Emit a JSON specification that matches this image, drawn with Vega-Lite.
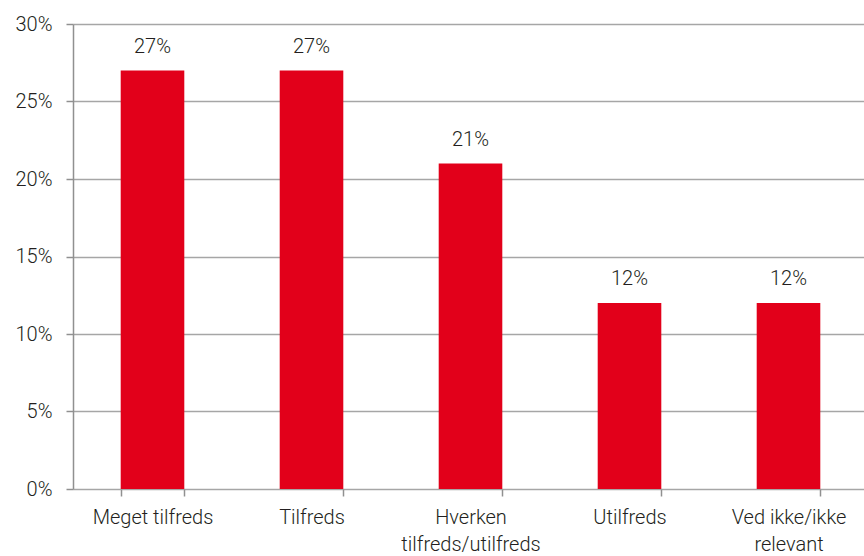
{
  "$schema": "https://vega.github.io/schema/vega-lite/v6.json",
  "width": 791,
  "height": 465,
  "autosize": "none",
  "padding": {"left": 73, "top": 24, "right": 0, "bottom": 67},
  "background": "white",
  "config": {
    "view": {"stroke": null},
    "font": "Roboto",
    "axis": {"labelFont": "Roboto", "labelFontSize": 20, "labelFontWeight": 300, "labelColor": "#231f20", "domainColor": "#909090", "tickColor": "#909090", "gridColor": "#a6a6a6", "domainWidth": 1.5, "tickWidth": 1.5, "gridWidth": 1.5, "labelOverlap": false}
  },
  "data": {
    "values": [
      {"kategori": "Meget tilfreds", "andel": 0.27},
      {"kategori": "Tilfreds", "andel": 0.27},
      {"kategori": "Hverken tilfreds/utilfreds", "andel": 0.21},
      {"kategori": "Utilfreds", "andel": 0.12},
      {"kategori": "Ved ikke/ikke relevant", "andel": 0.12}
    ]
  },
  "encoding": {
    "x": {
      "field": "kategori",
      "type": "nominal",
      "sort": null,
      "scale": {"paddingInner": 0.6, "paddingOuter": 0.3, "range": [0, 795]},
      "axis": {
        "title": null,
        "labelAngle": 0,
        "tickBand": "extent",
        "tickSize": 7,
        "labelPadding": 11,
        "labelLineHeight": 27,
        "labelBaseline": "top",
        "labelFontSize": 20,
        "domain": false,
        "labelExpr": "datum.value == 'Hverken tilfreds/utilfreds' ? ['Hverken', 'tilfreds/utilfreds'] : datum.value == 'Ved ikke/ikke relevant' ? ['Ved ikke/ikke', 'relevant'] : datum.value"
      }
    },
    "y": {
      "field": "andel",
      "type": "quantitative",
      "scale": {"domain": [0, 0.3], "nice": false},
      "axis": {
        "title": null,
        "format": ".0%",
        "values": [0, 0.05, 0.1, 0.15, 0.2, 0.25, 0.3],
        "tickSize": 7,
        "labelPadding": 14,
        "labelFontSize": 20,
        "labelOverlap": false,
        "grid": true,
        "domain": true
      }
    }
  },
  "layer": [
    {"mark": {"type": "bar", "color": "#E2001A"}},
    {
      "mark": {"type": "text", "baseline": "bottom", "dy": -14, "fontSize": 20, "fontWeight": 300, "color": "#231f20", "font": "Roboto"},
      "encoding": {"text": {"field": "andel", "type": "quantitative", "format": ".0%"}}
    }
  ]
}
